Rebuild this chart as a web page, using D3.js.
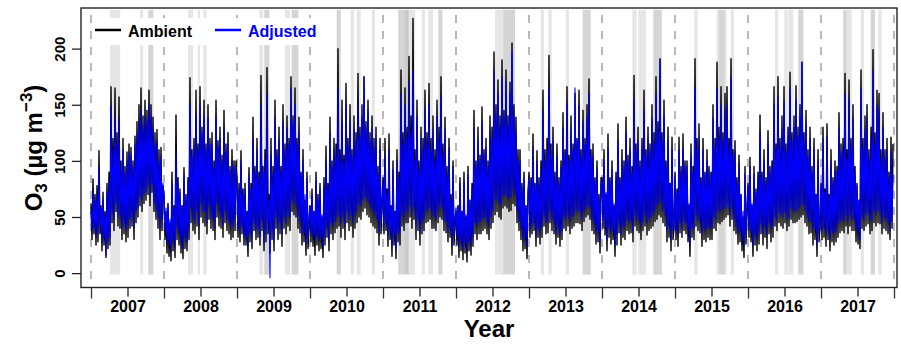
<!DOCTYPE html>
<html><head><meta charset="utf-8">
<script src="https://cdn.jsdelivr.net/npm/d3@7"></script>
<style>
body{margin:0;background:#fff}
svg{display:block}
text{font-family:"Liberation Sans",Arial,sans-serif;font-weight:bold}
</style>
</head><body>
<svg id="chart" width="901" height="347"></svg>
<script>
// ---------------- data ----------------
const years = [2007,2008,2009,2010,2011,2012,2013,2014,2015,2016,2017];
const sampleStepDays = 5; // readings every 5 days within each year

// Ambient O3 (µg m-3), one row per year
const ambientByYear = [
 [62,30,84,35,70,25,78,28,109,35,60,20,72,25,55,14,80,22,90,25,166,45,120,38,165,55,125,42,157,40,100,30,120,35,95,28,108,32,115,40,112,42,100,30,122,45,135,50,150,60,165,55,140,62,154,65,145,70,163,60,150,72,139,55,125,48,128,40,110,30,112,38,78],
 [70,30,55,18,62,15,45,11,90,20,60,14,141,30,85,25,75,18,60,13,94,22,70,20,85,30,174,45,110,38,120,35,163,42,115,30,166,50,130,45,154,42,115,35,150,48,120,40,125,38,100,30,154,50,118,42,130,40,105,32,145,45,115,38,125,35,95,30,110,32,100,38,100],
 [85,32,80,28,109,35,75,25,80,25,55,15,94,28,80,22,139,38,95,30,120,32,90,25,176,38,95,20,110,28,183,35,70,18,120,30,95,20,154,40,110,30,130,35,95,24,150,40,115,35,140,42,120,38,175,55,140,52,165,50,120,40,139,36,90,25,110,28,65,16,90,22,40],
 [60,28,75,24,55,16,90,25,70,20,80,22,50,14,85,25,113,32,80,20,139,35,100,30,120,36,115,40,200,42,110,32,154,40,105,30,169,45,120,38,150,42,110,32,140,40,125,45,178,50,130,48,150,55,175,58,135,52,154,50,125,45,140,42,120,40,130,36,95,25,120,35,60],
 [85,35,120,38,75,24,124,30,60,15,100,25,55,13,110,28,90,25,181,42,125,38,165,45,130,45,193,50,140,40,227,48,110,30,154,38,100,25,130,35,120,38,163,45,125,46,169,48,120,40,140,40,110,38,154,45,130,50,175,48,115,38,139,36,95,28,120,32,70,16,100,25,45],
 [55,25,60,14,85,20,55,12,90,18,50,10,95,20,65,16,80,24,145,35,100,30,130,35,105,35,148,38,110,40,120,35,100,30,140,40,130,45,197,52,150,55,172,50,140,48,190,58,145,60,181,58,140,55,170,56,205,62,150,60,139,45,110,38,110,30,80,20,90,22,60,13,70],
 [90,32,85,35,124,38,80,24,109,32,85,26,100,32,163,42,110,35,120,36,194,45,115,38,130,35,90,26,115,32,85,24,100,30,143,40,110,38,166,42,105,35,140,40,115,42,160,45,120,45,163,44,110,38,145,46,120,50,150,52,173,48,110,38,115,35,85,26,100,28,70,18,85],
 [85,40,110,34,70,20,124,32,85,26,100,30,60,15,90,25,133,36,85,25,110,32,100,30,139,38,105,35,120,36,95,28,176,42,115,38,130,36,100,30,120,38,163,42,110,34,130,38,115,40,150,42,125,46,175,48,135,52,191,50,125,45,154,42,100,28,130,32,80,20,121,30,40],
 [90,30,75,24,121,36,95,32,124,38,100,35,100,28,60,15,115,32,95,30,191,42,120,38,133,36,85,24,120,30,90,28,110,32,95,30,90,30,150,40,120,38,188,45,130,44,166,46,125,48,160,50,166,52,120,42,191,48,110,38,118,35,85,26,105,28,70,20,50,14,95,26,55],
 [80,32,103,28,60,15,95,25,75,20,90,26,141,35,90,25,110,32,85,22,127,35,95,28,100,32,166,42,115,38,175,45,120,42,140,40,166,45,115,38,130,42,179,48,125,45,140,45,167,46,130,48,150,50,188,52,125,45,145,42,110,35,130,36,95,25,120,30,70,15,110,28,40],
 [80,30,130,32,75,24,133,30,70,20,110,28,85,25,100,28,95,32,143,36,115,38,120,36,178,42,110,35,172,42,120,38,150,38,95,28,80,26,65,22,181,40,120,38,140,42,150,44,110,35,130,38,199,45,125,42,163,45,160,44,110,35,143,40,110,38,120,35,90,30,121,40,115]
];

// Adjusted O3 (µg m-3), one row per year
const adjustedByYear = [
 [55,38,75,40,65,32,70,36,95,42,58,28,66,32,52,16,72,28,82,32,149,55,110,48,140,62,115,52,135,50,95,40,110,45,90,38,100,42,108,48,105,50,95,40,115,55,125,58,135,68,145,65,130,70,140,72,135,78,150,70,140,80,130,62,115,56,118,50,100,40,105,48,80],
 [68,38,58,28,60,25,48,20,80,30,58,24,109,40,80,35,72,28,60,22,88,32,68,28,82,40,150,58,105,48,112,45,140,55,108,42,150,62,125,55,140,55,110,45,138,60,115,50,115,48,95,40,140,62,112,55,120,50,100,42,130,55,108,48,115,45,92,40,100,42,95,48,95],
 [80,40,75,36,100,42,70,32,75,32,55,24,88,36,75,32,120,45,90,38,110,40,85,32,150,48,90,26,100,36,160,45,65,-4,105,38,88,30,140,50,105,40,120,45,90,35,135,50,110,45,130,52,115,50,165,65,135,62,150,60,115,50,125,46,88,35,100,36,70,26,85,32,50],
 [60,36,70,33,55,28,82,34,65,30,75,32,52,24,78,33,100,42,75,30,125,45,95,42,110,46,105,50,165,52,100,45,135,50,98,42,150,55,112,48,135,52,105,45,128,52,118,56,150,62,122,60,140,65,175,68,128,64,145,62,118,58,130,55,112,52,120,48,88,36,110,45,65],
 [80,42,105,45,70,32,110,38,60,24,92,34,55,22,100,36,85,36,160,52,115,48,150,55,120,55,170,60,125,52,181,58,100,42,140,48,92,36,120,45,110,48,145,55,115,56,150,58,110,52,128,50,100,48,140,56,118,60,158,58,105,46,128,46,88,36,112,40,65,24,95,34,50],
 [58,32,60,24,80,28,55,22,82,27,52,20,88,28,65,26,75,32,130,45,95,42,118,45,100,46,135,48,105,50,112,45,95,42,128,50,120,56,180,65,140,65,160,62,130,60,175,68,138,70,170,68,132,66,160,68,198,75,140,70,125,56,100,46,100,40,75,30,85,32,60,24,72],
 [85,40,82,42,110,45,78,32,100,40,80,36,92,42,145,52,100,45,110,46,165,55,105,48,118,45,85,35,105,40,80,34,95,38,130,50,105,48,150,52,100,46,130,50,110,52,165,56,118,56,150,54,105,48,135,55,115,58,140,60,160,58,105,48,105,44,82,36,92,38,68,28,80],
 [82,48,100,42,72,30,110,40,82,36,92,38,62,25,85,35,118,45,82,35,100,42,95,42,125,48,100,45,110,46,90,38,155,52,110,48,118,46,95,42,110,46,145,52,105,45,120,48,108,50,138,52,115,56,160,60,125,62,190,64,118,56,140,52,95,38,118,42,80,30,110,38,48],
 [85,38,72,34,110,45,90,40,112,46,95,44,95,38,62,25,105,40,90,40,165,52,110,48,120,46,82,35,110,40,88,38,100,40,92,42,88,40,138,50,112,48,165,55,120,56,150,56,118,58,145,58,150,60,112,52,175,58,105,48,108,42,80,36,98,38,70,30,55,24,88,34,60],
 [78,40,95,36,62,25,88,34,72,30,85,36,125,44,85,36,100,42,80,34,115,45,90,40,95,42,150,50,110,48,158,54,112,52,128,50,152,54,108,48,120,50,165,58,118,56,130,54,155,56,122,58,140,60,188,62,118,56,135,50,105,46,120,46,90,38,110,40,70,25,100,36,48],
 [78,38,120,40,72,34,122,38,68,30,100,36,82,36,92,38,90,44,130,46,108,48,110,46,160,52,102,46,155,52,112,48,138,48,90,40,78,36,65,30,165,50,112,48,128,52,138,54,102,46,120,48,181,56,115,52,150,56,145,54,102,45,130,50,102,48,110,45,85,38,108,46,88]
];

// Episode periods shown as grey bands (decimal years); overlapping entries appear darker
const episodes = [
 [2007.26,2007.40],[2007.671,2007.716],[2007.785,2007.853],[2007.785,2007.853],
 [2008.329,2008.397],[2008.462,2008.493],[2008.538,2008.585],
 [2009.305,2009.360],[2009.374,2009.442],[2009.374,2009.442],[2009.658,2009.726],[2009.749,2009.840],[2009.749,2009.840],
 [2010.366,2010.421],[2010.366,2010.421],[2010.558,2010.603],[2010.640,2010.695],[2010.845,2010.890],
 [2011.21,2011.44],[2011.21,2011.35],[2011.30,2011.35],[2011.530,2011.575],[2011.621,2011.685],[2011.758,2011.812],[2011.758,2011.812],
 [2012.534,2012.808],[2012.648,2012.808],
 [2013.160,2013.205],[2013.264,2013.311],[2013.503,2013.548],[2013.736,2013.845],[2013.736,2013.845],
 [2014.415,2014.475],[2014.497,2014.603],[2014.703,2014.818],[2014.703,2014.818],
 [2015.264,2015.311],[2015.571,2015.708],[2015.600,2015.680],[2015.763,2015.808],
 [2016.370,2016.415],[2016.497,2016.544],[2016.552,2016.621],[2016.689,2016.758],[2016.689,2016.758],
 [2017.305,2017.421],[2017.305,2017.350],[2017.544,2017.589],[2017.681,2017.740],[2017.681,2017.740],[2017.785,2017.832]
];

const yTicks = [0,50,100,150,200];
const yearBoundaries = [2007,2008,2009,2010,2011,2012,2013,2014,2015,2016,2017,2018];
const yearLabels = ["2007","2008","2009","2010","2011","2012","2013","2014","2015","2016","2017"];
const seriesNames = ["Ambient","Adjusted"];

// ---------------- drawing ----------------
const svg = d3.select("#chart");
const L = 81, R = 897, T = 8, B = 287.5;
const x = d3.scaleLinear().domain([2006.863, 2018.041]).range([L, R]);
const y = d3.scaleLinear().domain([-12.8, 236.2]).range([B, T]);

function toPoints(rows){
  const pts = [];
  rows.forEach((row, yi) => row.forEach((v, i) => pts.push({t: years[yi] + i*sampleStepDays/365, v})));
  return pts;
}
const amb = toPoints(ambientByYear);
const adj = toPoints(adjustedByYear);

// bands
svg.append("g").selectAll("rect").data(episodes).join("rect")
  .attr("x", d => x(d[0])).attr("width", d => x(d[1]) - x(d[0]))
  .attr("y", y(234.6)).attr("height", y(-1.2) - y(234.6))
  .attr("fill", "#b4b4b4").attr("fill-opacity", 0.33);

// year boundary dashed lines
svg.append("g").selectAll("line").data(yearBoundaries).join("line")
  .attr("x1", d => x(d)).attr("x2", d => x(d))
  .attr("y1", 15).attr("y2", B)
  .attr("stroke", "#b8b8b8").attr("stroke-width", 2).attr("stroke-dasharray", "8,8");

const line = d3.line().x(d => x(d.t)).y(d => y(d.v));
svg.append("path").datum(amb).attr("d", line).attr("fill","none")
  .attr("stroke","#000").attr("stroke-width",1.4).attr("stroke-linejoin","round");
svg.append("path").datum(adj).attr("d", line).attr("fill","none")
  .attr("stroke","#0000ff").attr("stroke-width",1.1).attr("stroke-linejoin","round");

// frame
svg.append("rect").attr("x", L).attr("y", T).attr("width", R - L).attr("height", B - T)
  .attr("fill","none").attr("stroke","#222").attr("stroke-width",1.4);

// y axis
const yAxis = svg.append("g").attr("transform", `translate(${L},0)`)
  .call(d3.axisLeft(y).tickValues(yTicks).tickSize(9).tickFormat(d3.format("d")));
yAxis.select(".domain").remove();
yAxis.selectAll(".tick line").attr("stroke","#222").attr("stroke-width",1.3);
yAxis.selectAll(".tick text")
  .attr("font-size", 15).attr("font-family", '"Liberation Sans",Arial,sans-serif').attr("font-weight","bold")
  .attr("fill","#000")
  .attr("x", null).attr("dy", null)
  .attr("text-anchor","middle")
  .attr("transform", "translate(-16,0) rotate(-90)");

// x axis: boundary ticks and mid-year label ticks
const xAxisB = svg.append("g").attr("transform", `translate(0,${B})`)
  .call(d3.axisBottom(x).tickValues(yearBoundaries).tickSize(11).tickFormat(""));
xAxisB.select(".domain").remove();
xAxisB.selectAll(".tick line").attr("stroke","#333").attr("stroke-width",1.3);
const xAxisM = svg.append("g").attr("transform", `translate(0,${B})`)
  .call(d3.axisBottom(x).tickValues(years.map(v => v + 0.5)).tickSize(9)
    .tickFormat((d, i) => yearLabels[i]));
xAxisM.select(".domain").remove();
xAxisM.selectAll(".tick line").attr("stroke","#222").attr("stroke-width",1.3);
xAxisM.selectAll(".tick text").attr("font-size",16)
  .attr("font-family", '"Liberation Sans",Arial,sans-serif').attr("font-weight","bold")
  .attr("fill","#000").attr("y", 13).attr("dy","0.71em");

// axis titles
svg.append("text").attr("x", 489).attr("y", 337).attr("text-anchor","middle")
  .attr("font-size", 24).text("Year");
const yl = svg.append("text").attr("transform","translate(42,148) rotate(-90)")
  .attr("text-anchor","middle").attr("font-size", 24);
yl.append("tspan").text("O");
yl.append("tspan").attr("font-size",17).attr("dy",5).text("3");
yl.append("tspan").attr("dy",-5).text(" (µg m");
yl.append("tspan").attr("font-size",17).attr("dy",-10).text("−3");
yl.append("tspan").attr("dy",10).text(")");

// legend
const lg = svg.append("g");
lg.append("rect").attr("x", 93).attr("y", 18).attr("width", 237).attr("height", 27).attr("fill","#fff");
const legendItems = [
  {name: seriesNames[0], color: "#000", x0: 95},
  {name: seriesNames[1], color: "#0000ff", x0: 215}
];
legendItems.forEach(it => {
  lg.append("line").attr("x1", it.x0).attr("x2", it.x0 + 26).attr("y1", 30).attr("y2", 30)
    .attr("stroke", it.color).attr("stroke-width", 2.5);
  lg.append("text").attr("x", it.x0 + 33).attr("y", 36.5).attr("font-size", 16)
    .attr("fill", it.color).text(it.name);
});
</script>
</body></html>
